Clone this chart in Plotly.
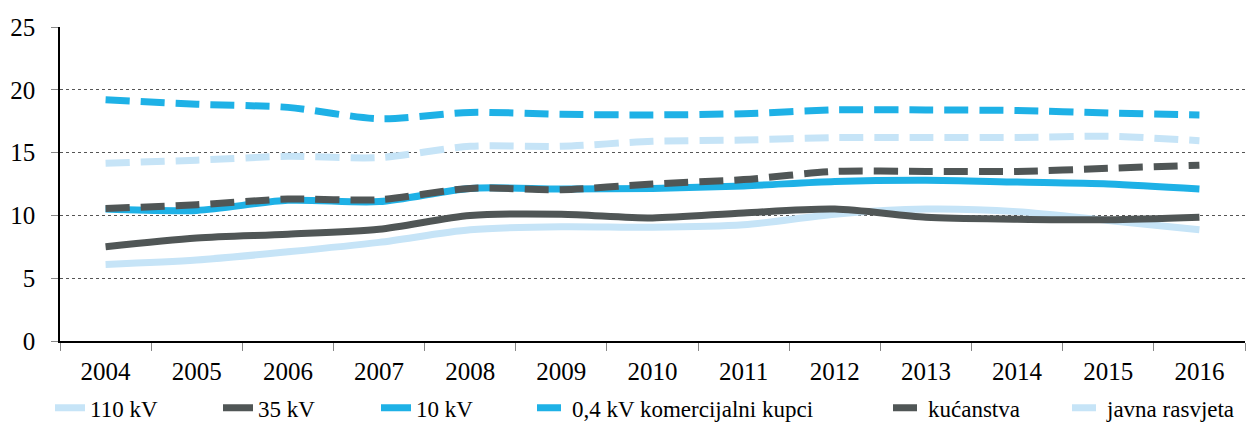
import plotly.graph_objects as go

years = ["2004", "2005", "2006", "2007", "2008", "2009", "2010",
         "2011", "2012", "2013", "2014", "2015", "2016"]

kv110 = [6.1, 6.45, 7.1, 7.85, 8.85, 9.1, 9.05, 9.25, 10.1, 10.5, 10.3, 9.6, 8.85]
kv35 = [7.5, 8.2, 8.5, 8.9, 10.0, 10.1, 9.8, 10.2, 10.5, 9.85, 9.7, 9.65, 9.85]
kv10 = [10.5, 10.4, 11.2, 11.1, 12.15, 12.1, 12.15, 12.35, 12.7, 12.8, 12.65, 12.5, 12.1]
kv04 = [19.2, 18.85, 18.6, 17.7, 18.2, 18.05, 18.0, 18.1, 18.4, 18.4, 18.35, 18.15, 18.0]
kucanstva = [10.55, 10.85, 11.3, 11.25, 12.15, 12.05, 12.5, 12.85, 13.5, 13.5, 13.5, 13.75, 14.0]
javna = [14.15, 14.4, 14.7, 14.6, 15.5, 15.5, 15.9, 16.0, 16.2, 16.2, 16.2, 16.3, 15.95]

names = ["110 kV", "35 kV", "10 kV", "0,4 kV komercijalni kupci", "kućanstva", "javna rasvjeta"]
series = [kv110, kv35, kv10, kv04, kucanstva, javna]
colors = ["#C6E4F7", "#505656", "#1EB1E6", "#1EB1E6", "#505656", "#C6E4F7"]
dashes = ["solid", "solid", "solid", "24px,11px", "24px,11px", "24px,11px"]

FONT = '"Liberation Serif", "Times New Roman", Times, serif'

# left edge (px) of each legend entry's text in the reference
legend_text_px = [92, 260, 418, 574, 930, 1109]
plot_left, plot_w = 60, 1185

fig = go.Figure()
layout_legends = {}
for i, (nm, ys, c, d) in enumerate(zip(names, series, colors, dashes)):
    key = "legend" if i == 0 else f"legend{i + 1}"
    fig.add_trace(go.Scatter(
        x=years, y=ys, name=nm, mode="lines",
        line=dict(color=c, width=7, dash=d, shape="spline", smoothing=0.8),
        legend=key,
    ))
    layout_legends[key] = dict(
        orientation="h",
        x=(legend_text_px[i] - 42 - plot_left) / plot_w, xanchor="left",
        y=-0.213, yanchor="middle",
        font=dict(size=23, family=FONT, color="black"),
        bgcolor="rgba(0,0,0,0)", borderwidth=0,
    )

fig.update_layout(
    width=1259, height=422,
    margin=dict(l=60, r=14, t=27, b=81, autoexpand=False),
    paper_bgcolor="white", plot_bgcolor="white",
    font=dict(family=FONT, size=25, color="black"),
    showlegend=True,
    xaxis=dict(
        type="category", range=[-0.5, 12.5], automargin=False,
        showline=True, linecolor="black", linewidth=1.5,
        ticks="outside", tickson="boundaries", ticklen=8, tickcolor="#888",
        showgrid=False, ticklabelstandoff=7,
        tickfont=dict(size=25, family=FONT),
    ),
    yaxis=dict(
        range=[0, 25], tickvals=[0, 5, 10, 15, 20, 25], automargin=False,
        showline=True, linecolor="black", linewidth=1.5,
        ticks="outside", ticklen=7, tickcolor="#888",
        showgrid=True, gridcolor="#555", gridwidth=1, griddash="dot",
        zeroline=False, ticklabelstandoff=11,
        tickfont=dict(size=25, family=FONT),
    ),
    **layout_legends,
)

fig.write_html(
    "out.html",
    config={"displayModeBar": False},
    post_script="document.body.style.margin='0';document.body.style.overflow='hidden';",
)
